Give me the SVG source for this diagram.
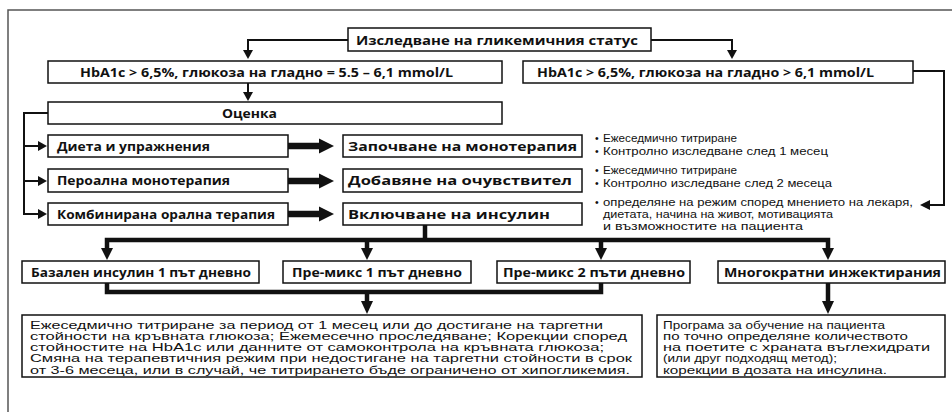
<svg xmlns="http://www.w3.org/2000/svg" width="952" height="412" viewBox="0 0 952 412">
<style>
.box{fill:#fff;stroke:#111;stroke-width:1.5}
.frame{fill:none;stroke:#555;stroke-width:1.5}
.lbl{font-family:"Open Sans","Liberation Sans",sans-serif;font-weight:bold;font-size:13px;fill:#111}
.txt{font-family:"Liberation Sans","Open Sans",sans-serif;font-size:10.1px;fill:#111}
.bul{font-family:"Liberation Sans","Open Sans",sans-serif;font-size:10.5px;fill:#111}
.thin{fill:none;stroke:#111;stroke-width:2}
.thick{fill:none;stroke:#111;stroke-width:4.5}
.shaft{fill:none;stroke:#111;stroke-width:6.5}
.head{fill:#111}
</style>
<rect class="frame" x="8" y="10" width="960" height="420"/>

<g id="connectors">
  <polyline class="thin" points="348,40 248,40 248,52"/>
  <polygon class="head" points="243,50 253,50 248,59"/>
  <polyline class="thin" points="651,40 732,40 732,52"/>
  <polygon class="head" points="727,50 737,50 732,59"/>
  <line class="thin" x1="248" y1="83" x2="248" y2="94"/>
  <polygon class="head" points="243,92 253,92 248,101"/>
  <polyline class="thin" points="913,71 944,71 944,205 928,205"/>
  <polygon class="head" points="930,200 930,210 920,205"/>
  <polyline class="thin" points="48,113 24,113 24,214 40,214"/>
  <line class="thin" x1="24" y1="146" x2="40" y2="146"/>
  <line class="thin" x1="24" y1="181" x2="40" y2="181"/>
  <polygon class="head" points="38,141 38,151 47,146"/>
  <polygon class="head" points="38,176 38,186 47,181"/>
  <polygon class="head" points="38,209 38,219 47,214"/>
  <line class="shaft" x1="288" y1="146" x2="322" y2="146"/>
  <line class="shaft" x1="288" y1="181" x2="322" y2="181"/>
  <line class="shaft" x1="288" y1="214" x2="322" y2="214"/>
  <polygon class="head" points="319,138.5 319,153.5 334,146"/>
  <polygon class="head" points="319,173.5 319,188.5 334,181"/>
  <polygon class="head" points="319,206.5 319,221.5 334,214"/>
  <line class="thick" x1="425" y1="225" x2="425" y2="240"/>
  <polyline class="thick" points="107,250 107,240 828,240 828,250"/>
  <line class="thick" x1="367" y1="240" x2="367" y2="250"/>
  <line class="thick" x1="601" y1="240" x2="601" y2="250"/>
  <polygon class="head" points="101,248 113,248 107,260"/>
  <polygon class="head" points="361,248 373,248 367,260"/>
  <polygon class="head" points="595,248 607,248 601,260"/>
  <polygon class="head" points="822,248 834,248 828,260"/>
  <polyline class="thick" points="107,283 107,292 601,292 601,283"/>
  <line class="thick" x1="367" y1="292" x2="367" y2="303"/>
  <polygon class="head" points="361,301 373,301 367,314"/>
  <line class="thick" x1="828" y1="283" x2="828" y2="303"/>
  <polygon class="head" points="822,301 834,301 828,314"/>
</g>

<g id="n-status">
  <rect class="box" x="348" y="28" width="303" height="23"/>
  <text class="lbl" x="356" y="45" textLength="282" lengthAdjust="spacingAndGlyphs">Изследване на гликемичния статус</text>
</g>
<g id="n-hba1c-left">
  <rect class="box" x="48" y="61" width="454" height="22"/>
  <text class="lbl" x="80" y="77" textLength="373" lengthAdjust="spacingAndGlyphs">HbA1c &gt; 6,5%, глюкоза на гладно = 5.5 – 6,1 mmol/L</text>
</g>
<g id="n-hba1c-right">
  <rect class="box" x="523" y="61" width="390" height="22"/>
  <text class="lbl" x="537" y="77" textLength="337" lengthAdjust="spacingAndGlyphs">HbA1c &gt; 6,5%, глюкоза на гладно &gt; 6,1 mmol/L</text>
</g>
<g id="n-ocenka">
  <rect class="box" x="48" y="102" width="454" height="22"/>
  <text class="lbl" x="222" y="118" textLength="55" lengthAdjust="spacingAndGlyphs">Оценка</text>
</g>
<g id="n-dieta">
  <rect class="box" x="48" y="135" width="240" height="22"/>
  <text class="lbl" x="57" y="151" textLength="153" lengthAdjust="spacingAndGlyphs">Диета и упражнения</text>
</g>
<g id="n-peroralna">
  <rect class="box" x="48" y="169" width="240" height="23"/>
  <text class="lbl" x="57" y="185" textLength="173" lengthAdjust="spacingAndGlyphs">Пероална монотерапия</text>
</g>
<g id="n-kombinirana">
  <rect class="box" x="48" y="203" width="240" height="22"/>
  <text class="lbl" x="57" y="219" textLength="218" lengthAdjust="spacingAndGlyphs">Комбинирана орална терапия</text>
</g>
<g id="n-monoterapia">
  <rect class="box" x="343" y="135" width="239" height="22"/>
  <text class="lbl" x="348" y="151" textLength="229" lengthAdjust="spacingAndGlyphs">Започване на монотерапия</text>
</g>
<g id="n-ochuvstvitel">
  <rect class="box" x="343" y="169" width="239" height="23"/>
  <text class="lbl" x="348" y="185" textLength="224" lengthAdjust="spacingAndGlyphs">Добавяне на очувствител</text>
</g>
<g id="n-insulin">
  <rect class="box" x="343" y="203" width="239" height="22"/>
  <text class="lbl" x="348" y="219" textLength="202" lengthAdjust="spacingAndGlyphs">Включване на инсулин</text>
</g>
<g id="n-notes">
  <text class="bul" x="595" y="142">•</text>
  <text class="bul" x="603" y="142" textLength="134" lengthAdjust="spacingAndGlyphs">Ежеседмично титриране</text>
  <text class="bul" x="595" y="155">•</text>
  <text class="bul" x="603" y="155" textLength="225" lengthAdjust="spacingAndGlyphs">Контролно изследване след 1 месец</text>
  <text class="bul" x="595" y="174">•</text>
  <text class="bul" x="603" y="174" textLength="134" lengthAdjust="spacingAndGlyphs">Ежеседмично титриране</text>
  <text class="bul" x="595" y="187">•</text>
  <text class="bul" x="603" y="187" textLength="229" lengthAdjust="spacingAndGlyphs">Контролно изследване след 2 месеца</text>
  <text class="bul" x="595" y="206">•</text>
  <text class="bul" x="603" y="206" textLength="310" lengthAdjust="spacingAndGlyphs">определяне на режим според мнението на лекаря,</text>
  <text class="bul" x="603" y="218" textLength="230" lengthAdjust="spacingAndGlyphs">диетата, начина на живот, мотивацията</text>
  <text class="bul" x="603" y="230" textLength="200" lengthAdjust="spacingAndGlyphs">и възможностите на пациента</text>
</g>
<g id="n-bazalen">
  <rect class="box" x="22" y="261" width="237" height="22"/>
  <text class="lbl" x="31" y="277" textLength="220" lengthAdjust="spacingAndGlyphs">Базален инсулин 1 път дневно</text>
</g>
<g id="n-premiks1">
  <rect class="box" x="283" y="261" width="188" height="22"/>
  <text class="lbl" x="292" y="277" textLength="170" lengthAdjust="spacingAndGlyphs">Пре-микс 1 път дневно</text>
</g>
<g id="n-premiks2">
  <rect class="box" x="497" y="261" width="193" height="22"/>
  <text class="lbl" x="503" y="277" textLength="182" lengthAdjust="spacingAndGlyphs">Пре-микс 2 пъти дневно</text>
</g>
<g id="n-mnogokratni">
  <rect class="box" x="718" y="261" width="227" height="22"/>
  <text class="lbl" x="724" y="277" textLength="217" lengthAdjust="spacingAndGlyphs">Многократни инжектирания</text>
</g>
<g id="n-titrirane">
  <rect class="box" x="22" y="315" width="620" height="62"/>
  <text class="txt" x="30" y="328.5" textLength="573" lengthAdjust="spacingAndGlyphs">Ежеседмично титриране за период от 1 месец или до достигане на таргетни</text>
  <text class="txt" x="30" y="339.8" textLength="597" lengthAdjust="spacingAndGlyphs">стойности на кръвната глюкоза; Ежемесечно проследяване; Корекции според</text>
  <text class="txt" x="30" y="351.1" textLength="574" lengthAdjust="spacingAndGlyphs">стойностите на HbA1c или данните от самоконтрола на кръвната глюкоза;</text>
  <text class="txt" x="30" y="362.4" textLength="602" lengthAdjust="spacingAndGlyphs">Смяна на терапевтичния режим при недостигане на таргетни стойности в срок</text>
  <text class="txt" x="30" y="373.7" textLength="600" lengthAdjust="spacingAndGlyphs">от 3-6 месеца, или в случай, че титрирането бъде ограничено от хипогликемия.</text>
</g>
<g id="n-programa">
  <rect class="box" x="657" y="315" width="288" height="62"/>
  <text class="txt" x="663" y="328.5" textLength="222" lengthAdjust="spacingAndGlyphs">Програма за обучение на пациента</text>
  <text class="txt" x="663" y="339.8" textLength="245" lengthAdjust="spacingAndGlyphs">по точно определяне количеството</text>
  <text class="txt" x="663" y="351.1" textLength="267" lengthAdjust="spacingAndGlyphs">на поетите с храната въглехидрати</text>
  <text class="txt" x="663" y="362.4" textLength="174" lengthAdjust="spacingAndGlyphs">(или друг подходящ метод);</text>
  <text class="txt" x="663" y="373.7" textLength="224" lengthAdjust="spacingAndGlyphs">корекции в дозата на инсулина.</text>
</g>
</svg>
